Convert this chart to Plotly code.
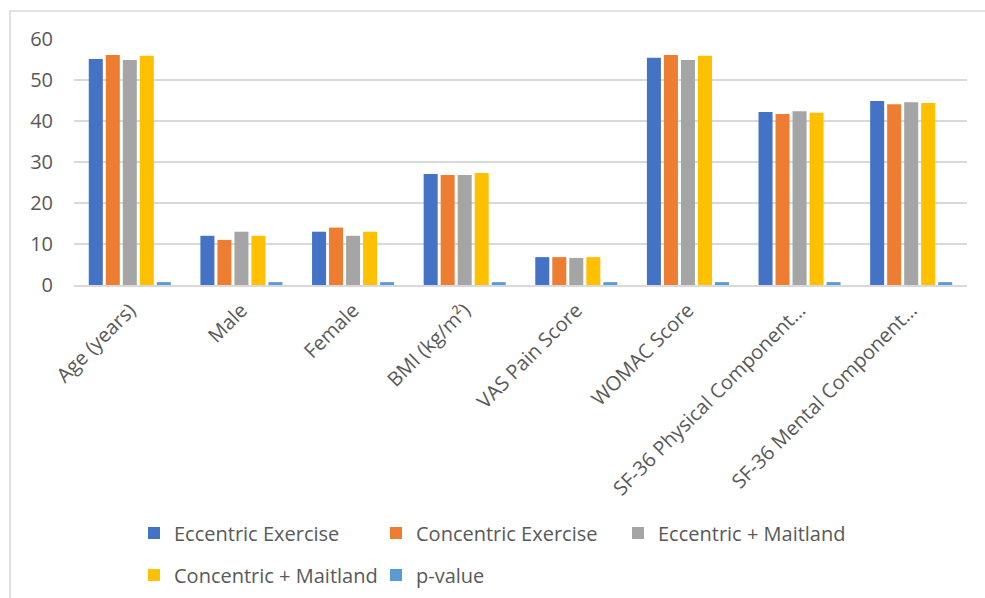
import plotly.graph_objects as go

categories = [
    "Age (years)", "Male", "Female", "BMI (kg/m²)", "VAS Pain Score",
    "WOMAC Score", "SF-36 Physical Component…", "SF-36 Mental Component…",
]
eccentric_exercise = [55.1, 12, 13, 27.1, 6.8, 55.4, 42.2, 44.9]
concentric_exercise = [56.1, 11, 14, 26.8, 6.8, 56.1, 41.7, 44.1]
eccentric_maitland = [54.9, 13, 12, 26.8, 6.6, 54.9, 42.4, 44.6]
concentric_maitland = [55.9, 12, 13, 27.3, 6.8, 55.9, 42.0, 44.4]
p_value = [0.7, 0.7, 0.7, 0.7, 0.7, 0.7, 0.7, 0.7]
y_ticks = [0, 10, 20, 30, 40, 50, 60]

W, H = 985, 598
L, R, T, B = 74, 18, 39, 313
plot_w = W - L - R
plot_h = H - T - B


def px_x(px):
    return (px - L) / plot_w


def px_y(py):
    return (H - B - py) / plot_h


FONT = "Open Sans, Noto Sans, sans-serif"
GREY_TEXT = "#595959"
GRID = "#D9D9D9"

series = [
    ("Eccentric Exercise", eccentric_exercise, "#4472C4", "legend"),
    ("Concentric Exercise", concentric_exercise, "#ED7D31", "legend"),
    ("Eccentric + Maitland", eccentric_maitland, "#A5A5A5", "legend"),
    ("Concentric + Maitland", concentric_maitland, "#FFC000", "legend2"),
    ("p-value", p_value, "#5B9BD5", "legend2"),
]

fig = go.Figure()
for name, vals, color, leg in series:
    fig.add_trace(go.Bar(
        x=categories, y=vals, name=name, legend=leg,
        marker=dict(color=color, line=dict(width=0)),
    ))

legend_common = dict(
    orientation="h", xanchor="left", yanchor="middle",
    font=dict(family=FONT, size=20, color=GREY_TEXT),
    entrywidth=197, entrywidthmode="pixels",
    bgcolor="rgba(0,0,0,0)", itemclick=False, itemdoubleclick=False,
)

fig.update_layout(
    width=W, height=H,
    margin=dict(l=L, r=R, t=T, b=B, autoexpand=False),
    paper_bgcolor="white", plot_bgcolor="white",
    barmode="group", bargap=0.238, bargroupgap=0.176,
    font=dict(family=FONT, color=GREY_TEXT),
    legend=dict(x=px_x(134), y=px_y(533), **legend_common),
    legend2=dict(x=px_x(134), y=px_y(575), **legend_common),
    xaxis=dict(
        tickangle=-45, tickfont=dict(family=FONT, size=20, color=GREY_TEXT),
        showline=True, linecolor=GRID, linewidth=1.5,
        ticks="", showgrid=False, ticklabelstandoff=4,
    ),
    yaxis=dict(
        range=[0, 60], tickvals=y_ticks,
        tickfont=dict(family=FONT, size=20, color=GREY_TEXT),
        showgrid=True, gridcolor=GRID, gridwidth=1.5,
        zeroline=False, showline=False, ticks="", ticklabelstandoff=20,
    ),
    shapes=[dict(
        type="rect", xref="paper", yref="paper",
        x0=px_x(10), x1=px_x(995), y0=px_y(610), y1=px_y(11),
        line=dict(color=GRID, width=1.5), fillcolor="rgba(0,0,0,0)",
        layer="below",
    )],
)

fig.write_html("out.html")
